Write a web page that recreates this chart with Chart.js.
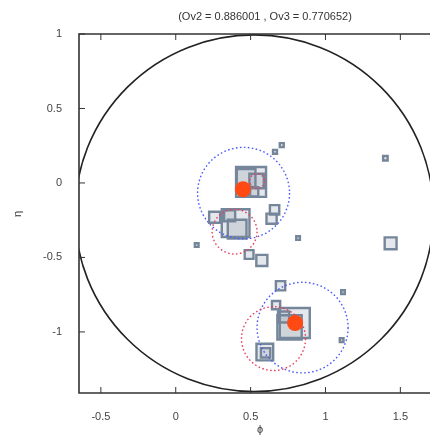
<!DOCTYPE html>
<html lang="en">
<head>
<meta charset="UTF-8">
<title>Ov2 / Ov3</title>
<script src="https://cdn.jsdelivr.net/npm/chart.js"></script>
<style>
  html, body { margin: 0; padding: 0; background: #fff; overflow: hidden; }
</style>
</head>
<body>
<canvas id="c" width="430" height="437"></canvas>
<script>
// squares: position and weight (weight drives the square size)
const sqX = [0.503, 0.47, 0.54, 0.46, 0.52,
             0.40, 0.41, 0.26, 0.36, 0.64, 0.66, 0.49, 0.575, 1.435,
             0.70, 0.67, 0.795, 0.76, 0.72, 0.595, 0.60,
             0.708, 0.663, 1.40, 0.14, 0.817, 1.117, 1.108];
const sqY = [0.007, 0.03, 0.013, -0.05, -0.06,
             -0.27, -0.31, -0.23, -0.22, -0.24, -0.18, -0.48, -0.52, -0.405,
             -0.69, -0.82, -0.94, -0.97, -0.90, -1.135, -1.14,
             0.254, 0.209, 0.166, -0.417, -0.37, -0.733, -1.055];
const sqW = [1.0, 0.6, 0.45, 0.33, 0.27,
             0.92, 0.6, 0.33, 0.33, 0.3, 0.27, 0.25, 0.33, 0.36,
             0.27, 0.23, 1.0, 0.8, 0.33, 0.53, 0.27,
             0.08, 0.08, 0.1, 0.07, 0.07, 0.07, 0.07];

// centroids (filled orange dots)
const dotX = [0.449, 0.797];
const dotY = [-0.042, -0.94];

// circles: centre x, centre y, radius (data units)
const bigCircle = [0.524, -0.203, 1.197];
const blueX = [0.453, 0.847];
const blueY = [-0.068, -0.971];
const blueR = [0.307, 0.304];
const redX = [0.393, 0.543, 0.653];
const redY = [-0.327, 0.012, -1.045];
const redR = [0.15, 0.05, 0.214];

const xTicks = [-0.5, 0, 0.5, 1, 1.5];
const yTicks = [1, 0.5, 0, -0.5, -1];
const titleText = '(Ov2 = 0.886001 , Ov3 = 0.770652)';

function circ(chart, cx, cy, r, color, dash, lw) {
  const { ctx, scales } = chart;
  const px = scales.x.getPixelForValue(cx);
  const py = scales.y.getPixelForValue(cy);
  const rx = Math.abs(scales.x.getPixelForValue(cx + r) - px);
  const ry = Math.abs(scales.y.getPixelForValue(cy + r) - py);
  ctx.save();
  ctx.strokeStyle = color;
  ctx.lineWidth = lw;
  ctx.setLineDash(dash);
  ctx.beginPath();
  ctx.ellipse(px, py, rx, ry, 0, 0, Math.PI * 2);
  ctx.stroke();
  ctx.restore();
}

const decor = {
  id: 'decor',
  // the plot runs to the right edge of the window
  afterLayout(chart) {
    const s = chart.scales.x;
    const w = chart.width;
    chart.chartArea.right = w;
    chart.chartArea.width = w - chart.chartArea.left;
    s.right = w;
    s.width = w - s.left;
    s.configure();
  },
  afterDatasetDraw(chart, args) {
    if (args.index !== 0) return;
    const { ctx, chartArea: a } = chart;
    ctx.save();
    ctx.beginPath();
    ctx.rect(a.left, a.top, a.right - a.left, a.bottom - a.top);
    ctx.clip();
    circ(chart, bigCircle[0], bigCircle[1], bigCircle[2], '#222', [], 1.6);
    for (let i = 0; i < blueX.length; i++) circ(chart, blueX[i], blueY[i], blueR[i], '#4a5cff', [1.6, 2.4], 1.4);
    for (let i = 0; i < redX.length; i++) circ(chart, redX[i], redY[i], redR[i], '#e8405c', [1.6, 2.4], 1.4);
    ctx.restore();
  },
  afterDraw(chart) {
    const { ctx, chartArea: a, scales } = chart;
    ctx.save();
    ctx.strokeStyle = '#333';
    ctx.lineWidth = 1.6;
    ctx.beginPath();
    ctx.moveTo(a.right + 5, a.top);
    ctx.lineTo(a.left, a.top);
    ctx.lineTo(a.left, a.bottom);
    ctx.lineTo(a.right + 5, a.bottom);
    ctx.stroke();
    ctx.lineWidth = 1;
    ctx.beginPath();
    xTicks.forEach(v => {
      const p = scales.x.getPixelForValue(v);
      ctx.moveTo(p, a.bottom); ctx.lineTo(p, a.bottom - 6);
      ctx.moveTo(p, a.top); ctx.lineTo(p, a.top + 6);
    });
    yTicks.forEach(v => {
      const p = scales.y.getPixelForValue(v);
      ctx.moveTo(a.left, p); ctx.lineTo(a.left + 6, p);
    });
    ctx.stroke();

    ctx.fillStyle = '#333';
    ctx.font = '11px "Liberation Sans", Arial, sans-serif';
    ctx.textAlign = 'center';
    ctx.textBaseline = 'middle';
    ctx.fillText(titleText, 265, 17);
    ctx.fillText('\u03d5', 260, 430);
    ctx.translate(18, 214);
    ctx.rotate(-Math.PI / 2);
    ctx.fillText('\u03b7', 0, 0);
    ctx.restore();
  }
};

const squares = sqX.map((x, i) => ({ x: x, y: sqY[i] }));
const dots = dotX.map((x, i) => ({ x: x, y: dotY[i] }));
const tickFont = { family: '"Liberation Sans", Arial, sans-serif', size: 11 };

new Chart(document.getElementById('c'), {
  type: 'scatter',
  data: {
    datasets: [
      {
        data: squares,
        order: 1,
        pointStyle: 'rect',
        pointRadius: ctx => 1.2 + sqW[ctx.dataIndex] * 20,
        pointHoverRadius: ctx => 1.2 + sqW[ctx.dataIndex] * 20,
        borderColor: '#76869a',
        backgroundColor: 'rgba(118,134,154,0.2)',
        borderWidth: 2.4
      },
      {
        data: dots,
        order: 0,
        pointStyle: 'circle',
        pointRadius: 8,
        backgroundColor: '#ff4a14',
        borderColor: '#ff4a14',
        borderWidth: 0
      }
    ]
  },
  options: {
    responsive: false,
    animation: false,
    events: [],
    layout: { padding: { top: 34, right: 0, left: 0, bottom: 0 } },
    plugins: { legend: { display: false }, tooltip: { enabled: false } },
    scales: {
      x: {
        type: 'linear',
        min: -0.646,
        max: 1.698,
        grid: { display: false },
        border: { display: false },
        ticks: {
          includeBounds: false,
          stepSize: 0.5,
          padding: 9,
          color: '#444',
          font: tickFont,
          maxRotation: 0,
          callback: v => String(v)
        },
        afterFit: s => { s.height = 44; }
      },
      y: {
        type: 'linear',
        min: -1.41,
        max: 1,
        grid: { display: false },
        border: { display: false },
        ticks: {
          includeBounds: false,
          stepSize: 0.5,
          padding: 9,
          color: '#444',
          font: tickFont,
          callback: v => String(v)
        },
        afterFit: s => { s.width = 79; }
      }
    }
  },
  plugins: [decor]
});
</script>
</body>
</html>
